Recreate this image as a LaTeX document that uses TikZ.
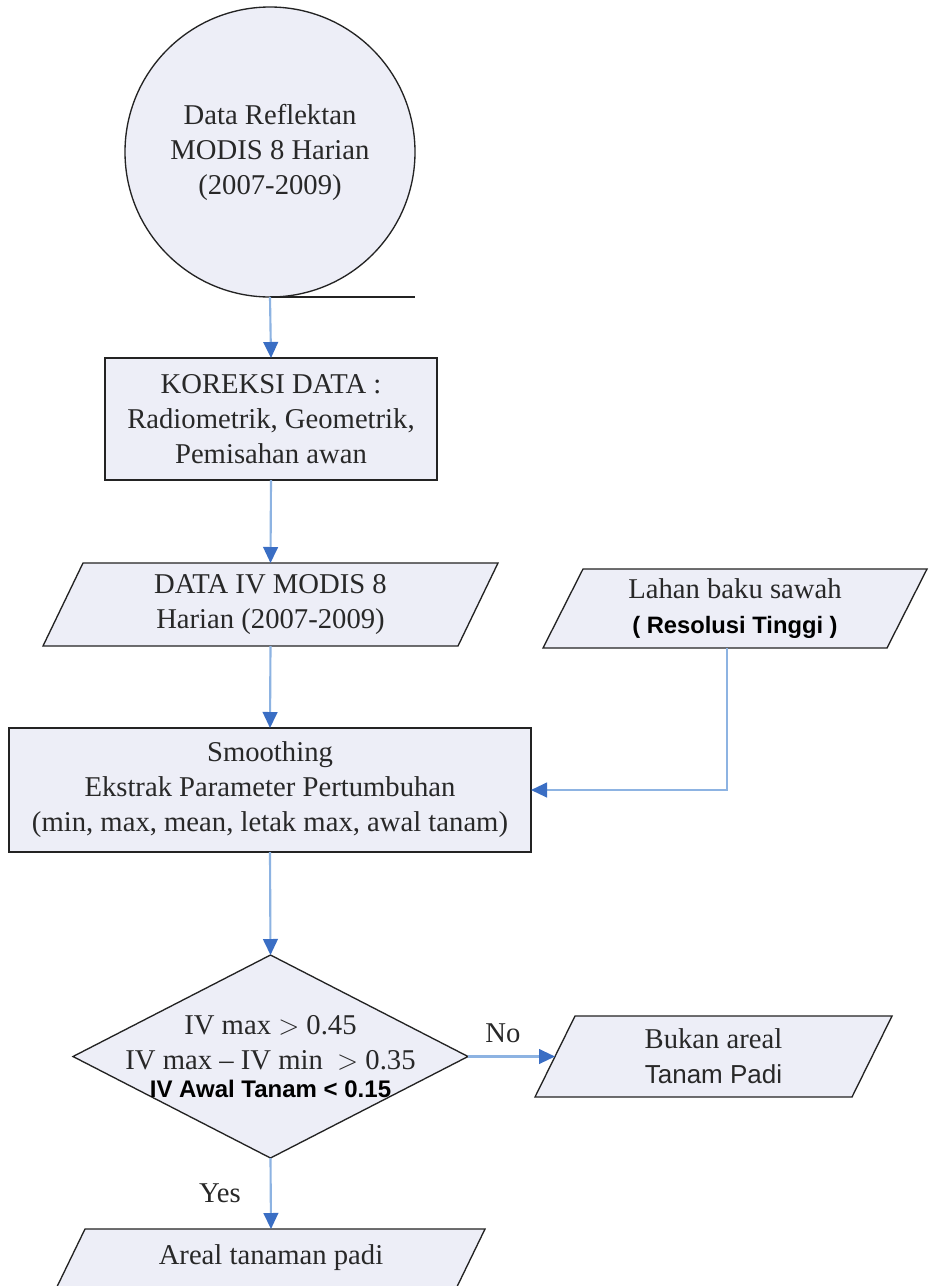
\documentclass[tikz,border=0pt]{standalone}
\usepackage{fontspec}
\setmainfont{Liberation Serif}
\newfontfamily\arialfont{Liberation Sans}
\usetikzlibrary{arrows.meta,calc,backgrounds}
\definecolor{boxfill}{RGB}{237,238,247}
\definecolor{linkline}{RGB}{141,179,226}
\definecolor{linktip}{RGB}{58,110,196}
\definecolor{edgecol}{RGB}{35,35,35}
\definecolor{txt}{RGB}{40,40,40}
\begin{document}
\begin{tikzpicture}[x=0.75pt,y=-0.75pt,
  shapeline/.style={draw=edgecol,line width=1pt,fill=boxfill},
  holder/.style={draw=none,inner sep=0pt,outer sep=0pt,align=center,font=\fontsize{21.5}{26.25}\selectfont,text=txt},
  solidbox/.style={shapeline,inner sep=0pt,outer sep=0pt,align=center,font=\fontsize{21.5}{26.25}\selectfont,text=txt},
  link/.style={draw=linkline,line width=1.6pt,-{Triangle[length=12pt,width=11pt,color=linktip]}},
  tapeline/.style={draw=edgecol,line width=1.4pt},
  lbl/.style={font=\fontsize{21.5}{26.25}\selectfont,text=txt,inner sep=0pt},
]
\useasboundingbox (0,0) rectangle (933,1286);

% start circle (tape)
\node[solidbox,circle,minimum size=217.5pt] (circ) at (270,152)
  {Data Reflektan\\MODIS 8 Harian\\(2007-2009)};
\coordinate (tapeend) at (415,297);
\draw[tapeline] (circ.south) -- (tapeend);

% correction box
\node[solidbox,rectangle,minimum width=249pt,minimum height=91.5pt] (koreksi) at (271,419)
  {KOREKSI DATA :\\Radiometrik, Geometrik,\\Pemisahan awan};

% DATA IV parallelogram
\node[holder,minimum width=341.25pt,minimum height=62.25pt] (dataiv) at (270.5,604.5)
  {DATA IV MODIS 8\\Harian (2007-2009)};

% Lahan baku sawah parallelogram
\node[holder,minimum width=288pt,minimum height=59.25pt] (lahan) at (735,608.5)
  {Lahan baku sawah\\{\color{black}\arialfont\bfseries\fontsize{17.8}{22}\selectfont ( Resolusi Tinggi )}};

% smoothing box
\node[solidbox,rectangle,minimum width=391.5pt,minimum height=93pt] (smooth) at (270,790)
  {Smoothing\\Ekstrak Parameter Pertumbuhan\\(min, max, mean, letak max, awal tanam)};

% decision diamond
\node[holder,minimum width=296.25pt,minimum height=152.25pt] (dec) at (270.5,1056.5)
  {IV max $>$ 0.45\\IV max -- IV min \ $>$ 0.35\\[-5pt]{\color{black}\arialfont\bfseries\fontsize{18}{22}\selectfont IV Awal Tanam < 0.15}};

% Bukan areal parallelogram
\node[holder,minimum width=267.75pt,minimum height=60.75pt] (bukan) at (713.5,1056.5)
  {Bukan areal\\{\arialfont\fontsize{19.5}{24}\selectfont Tanam Padi}};

% Areal tanaman padi parallelogram
\node[holder,minimum width=321pt,minimum height=43.5pt] (areal) at (271,1258)
  {Areal tanaman padi};

\begin{scope}[on background layer]
  \fill[white] (0,0) rectangle (933,1286);
  \path[shapeline] (dataiv.south west) -- ($(dataiv.north west)+(40,0)$) -- (dataiv.north east) -- ($(dataiv.south east)+(-40,0)$) -- cycle;
  \path[shapeline] (lahan.south west) -- ($(lahan.north west)+(40,0)$) -- (lahan.north east) -- ($(lahan.south east)+(-40,0)$) -- cycle;
  \path[shapeline] (dec.north) -- (dec.east) -- (dec.south) -- (dec.west) -- cycle;
  \path[shapeline] (bukan.south west) -- ($(bukan.north west)+(40,0)$) -- (bukan.north east) -- ($(bukan.south east)+(-40,0)$) -- cycle;
  \path[shapeline] ($(areal.north west)+(28,0)$) -- (areal.north east) -- ($(areal.south east)+(-32,8)$) -- ($(areal.south west)+(-4,8)$) -- cycle;
\end{scope}

% connectors
\coordinate (lahanout) at (727,648);
\coordinate (bukanin) at ($(bukan.west)+(20,0)$);
\draw[link] (circ.south) -- (koreksi.north);
\draw[link] (koreksi.south) -- (dataiv.north);
\draw[link] (dataiv.south) -- (smooth.north);
\draw[link] (lahanout) |- (smooth.east);
\draw[link] (smooth.south) -- (dec.north);
\draw[link] (dec.east) -- (bukanin);
\draw[link] (dec.south) -- (areal.north);

\node[lbl] (nolbl) at (503,1033) {No};
\node[lbl] (yeslbl) at (220,1193) {Yes};
\end{tikzpicture}
\end{document}
